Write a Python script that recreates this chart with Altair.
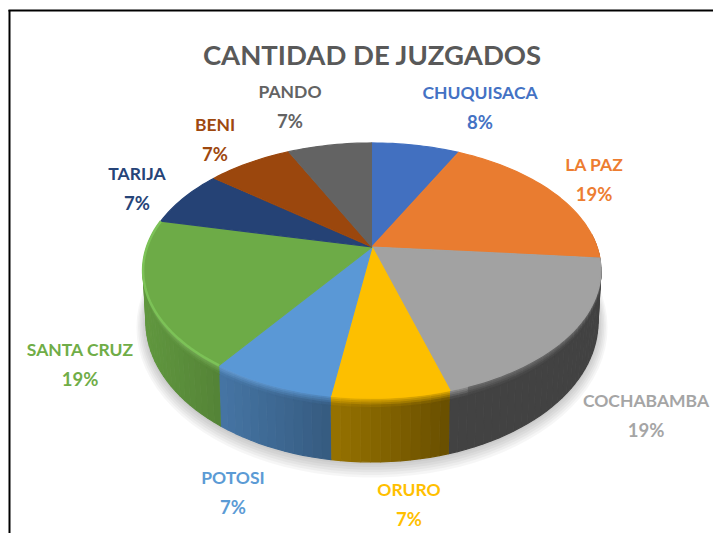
import math
import altair as alt
import pandas as pd

alt.data_transformers.disable_max_rows()

TITLE = "CANTIDAD DE JUZGADOS"
names = ["CHUQUISACA", "LA PAZ", "COCHABAMBA", "ORURO", "POTOSI", "SANTA CRUZ", "TARIJA", "BENI", "PANDO"]
labels = ["8%", "19%", "19%", "7%", "7%", "19%", "7%", "7%", "7%"]
shares = [7.4, 19.0, 19.0, 7.0, 7.4, 18.7, 7.2, 7.2, 7.1]
face_colors = ["#4270C0", "#E97C30", "#A2A2A2", "#FDBF00", "#5A98D6", "#6DAB47", "#254275", "#9B470D", "#636363"]
label_colors = ["#4472C4", "#ED7D31", "#A5A5A5", "#FFC000", "#5B9BD5", "#70AD47", "#264478", "#9E480E", "#636363"]
label_x = [480, 594, 646, 409, 233, 80, 137, 215, 290]
label_y = [94, 166, 402, 491, 479, 351, 175, 126, 93]

FONT = "Lato"

# projection of the tilted disc
CX, CY, PERSP, AY, D = 372.0, 247.0, 0.184, 123.2, 225.0
T_CY, T_RX, T_RY = 270.5, 229.0, 127.5
B_CY, B_RX, B_RY = 322.0, 226.0, 140.0


def top_point(t):
    u, v = math.sin(t), math.cos(t)
    w = 1 + PERSP * v
    return CX + D * u / w, CY - AY * v / w


def bottom_point(t):
    x, y = top_point(t)
    phi = math.atan2((y - T_CY) / T_RY, (x - CX) / T_RX)
    return CX + B_RX * math.cos(phi), B_CY + B_RY * math.sin(phi)


def rgb(h):
    return [int(h[i:i + 2], 16) for i in (1, 3, 5)]


def hexc(c):
    return "#%02x%02x%02x" % tuple(max(0, min(255, round(a))) for a in c)


def mix(a, b, k):
    return [p + (q - p) * k for p, q in zip(a, b)]


def shade_at(x):
    k = (x - 147) / (452 - 147)
    return max(0.41, 0.88 - 0.47 * k)


rows = []
pid = 0


def add_poly(points, fill, stroke=None):
    global pid
    for i, (x, y) in enumerate(points):
        rows.append({"x": x, "y": y, "p": pid, "i": i, "fill": fill, "stroke": stroke or fill})
    pid += 1


# soft shadow under the disc
for k in range(6, 0, -1):
    pts = []
    for a in range(0, 360, 4):
        r = math.radians(a)
        pts.append((CX + (B_RX + k * 1.6) * math.cos(r), B_CY + k * 0.9 + (B_RY + k * 1.7) * math.sin(r)))
    add_poly(pts, "rgba(0,0,0,0.035)", "transparent")

# slice spans
total = sum(shares)
spans = []
acc = 0.0
for s in shares:
    spans.append((acc / total * 2 * math.pi, (acc + s) / total * 2 * math.pi))
    acc += s

# side wall
bands = [0.0, 0.025, 0.05, 0.08, 0.11, 0.15, 1.0]
for idx, (a0, a1) in enumerate(spans):
    lo, hi = max(a0, math.radians(84)), min(a1, math.radians(276))
    if hi <= lo:
        continue
    n = max(1, int((hi - lo) / math.radians(2)))
    base = rgb(face_colors[idx])
    for j in range(n):
        t0, t1 = lo + (hi - lo) * j / n, lo + (hi - lo) * (j + 1) / n
        p0, p1 = top_point(t0), top_point(t1)
        q0, q1 = bottom_point(t0), bottom_point(t1)
        xm = (p0[0] + p1[0]) / 2
        f = shade_at(xm)
        side = [c * f for c in base]
        lit = max(0.0, min(1.0, (330 - xm) / 150))
        high = mix(base, [255, 255, 255], 0.14 * lit)
        if xm > 470:
            high = mix(base, side, 0.45)
        for b in range(len(bands) - 1):
            g0, g1 = bands[b], bands[b + 1]
            k = min(1.0, (b + 0.5) / (len(bands) - 2))
            col = hexc(mix(high, side, k)) if b < len(bands) - 2 else hexc(side)
            poly = [
                (p0[0] + (q0[0] - p0[0]) * g0, p0[1] + (q0[1] - p0[1]) * g0),
                (p1[0] + (q1[0] - p1[0]) * g0, p1[1] + (q1[1] - p1[1]) * g0),
                (p1[0] + (q1[0] - p1[0]) * g1, p1[1] + (q1[1] - p1[1]) * g1),
                (p0[0] + (q0[0] - p0[0]) * g1, p0[1] + (q0[1] - p0[1]) * g1),
            ]
            add_poly(poly, col)

# top face
for idx, (a0, a1) in enumerate(spans):
    n = max(2, int((a1 - a0) / math.radians(1.5)))
    pts = [(CX, CY)] + [top_point(a0 + (a1 - a0) * j / n) for j in range(n + 1)]
    add_poly(pts, face_colors[idx])

df = pd.DataFrame(rows)

X = alt.Scale(domain=[8, 713], nice=False, zero=False)
Y = alt.Scale(domain=[533, 8], nice=False, zero=False)

discs = alt.Chart(df).mark_line(strokeWidth=1.2, interpolate="linear", strokeJoin="round").encode(
    x=alt.X("x:Q", scale=X, axis=None),
    y=alt.Y("y:Q", scale=Y, axis=None),
    detail="p:N",
    order="i:Q",
    fill=alt.Fill("fill:N", scale=None, legend=None),
    stroke=alt.Stroke("stroke:N", scale=None, legend=None),
)

# lit rim along the lower-left edge of the top face
rim_rows = []
for idx, col in ((5, "#7CC257"),):
    a0, a1 = spans[idx]
    n = int((a1 - a0) / math.radians(1.5))
    for j in range(n + 1):
        x, y = top_point(a0 + (a1 - a0) * j / n)
        rim_rows.append({"x": x, "y": y, "i": j, "p": idx, "c": col})
rim = alt.Chart(pd.DataFrame(rim_rows)).mark_line(strokeWidth=2.5, strokeCap="butt").encode(
    x=alt.X("x:Q", scale=X, axis=None),
    y=alt.Y("y:Q", scale=Y, axis=None),
    detail="p:N",
    order="i:Q",
    stroke=alt.Stroke("c:N", scale=None, legend=None),
)

lab = pd.DataFrame({"name": names, "pct": labels, "x": label_x, "y": label_y, "c": label_colors})
lab["y2"] = lab["y"] + 29
name_text = alt.Chart(lab).mark_text(font=FONT, fontWeight="bold", fontSize=17.5, baseline="middle", align="center").encode(
    x=alt.X("x:Q", scale=X, axis=None),
    y=alt.Y("y:Q", scale=Y, axis=None),
    text="name:N",
    color=alt.Color("c:N", scale=None, legend=None),
)
pct_text = alt.Chart(lab).mark_text(font=FONT, fontWeight="bold", fontSize=18.5, baseline="middle", align="center").encode(
    x=alt.X("x:Q", scale=X, axis=None),
    y=alt.Y("y2:Q", scale=Y, axis=None),
    text="pct:N",
    color=alt.Color("c:N", scale=None, legend=None),
)
title_text = alt.Chart(pd.DataFrame({"t": [TITLE], "x": [372], "y": [57]})).mark_text(
    font=FONT, fontWeight="bold", fontSize=27.5, color="#595959", baseline="middle", align="center"
).encode(
    x=alt.X("x:Q", scale=X, axis=None),
    y=alt.Y("y:Q", scale=Y, axis=None),
    text="t:N",
)

border_left = alt.Chart(pd.DataFrame({"x": [9.5], "y": [10], "y2": [533]})).mark_rule(color="#000000", strokeWidth=2).encode(
    x=alt.X("x:Q", scale=X, axis=None),
    y=alt.Y("y:Q", scale=Y, axis=None),
    y2="y2:Q",
)
border_top = alt.Chart(pd.DataFrame({"y": [10.5], "x": [8.5], "x2": [713]})).mark_rule(color="#000000", strokeWidth=2).encode(
    y=alt.Y("y:Q", scale=Y, axis=None),
    x=alt.X("x:Q", scale=X, axis=None),
    x2="x2:Q",
)

chart = alt.layer(discs, rim, title_text, name_text, pct_text, border_left, border_top).properties(
    width=705, height=525, padding=0, background="#ffffff", autosize=alt.AutoSizeParams(type="none")
).configure_view(stroke=None)

chart.save("out.html", embed_options={"renderer": "svg", "actions": False})
